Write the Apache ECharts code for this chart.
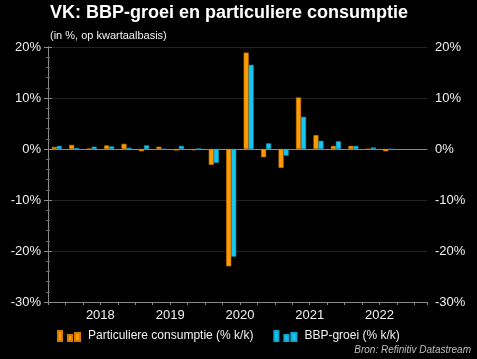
<!DOCTYPE html>
<html>
<head>
<meta charset="utf-8">
<script src="https://cdn.jsdelivr.net/npm/echarts@6/dist/echarts.min.js"></script>
<style>
html,body{margin:0;padding:0;background:#000;}
#chart{width:477px;height:359px;}
</style>
</head>
<body>
<div id="chart"></div>
<script>
var quarters = ['2017Q4','2018Q1','2018Q2','2018Q3','2018Q4','2019Q1','2019Q2','2019Q3','2019Q4',
  '2020Q1','2020Q2','2020Q3','2020Q4','2021Q1','2021Q2','2021Q3','2021Q4','2022Q1','2022Q2','2022Q3'];
var consumptie = [0.4, 0.8, 0.05, 0.7, 1.0, -0.45, 0.45, -0.3, -0.25,
  -3.1, -23.0, 18.9, -1.6, -3.7, 10.1, 2.7, 0.6, 0.6, -0.05, -0.45];
var bbpGroei = [0.6, 0.2, 0.45, 0.5, 0.25, 0.7, -0.05, 0.6, 0.05,
  -2.7, -21.1, 16.5, 1.1, -1.3, 6.3, 1.6, 1.5, 0.6, 0.3, -0.1];
var yearLabels = ['2018','2019','2020','2021','2022'];
var yTicks = [-30, -20, -10, 0, 10, 20];

var seriesNames = ['Particuliere consumptie (% k/k)', 'BBP-groei (% k/k)'];

// year label sits at the boundary between Q2 and Q3 (start of Q3)
var yearPos = {};
yearLabels.forEach(function (y) { yearPos[quarters.indexOf(y + 'Q3')] = y; });

function toPoints(arr) { return arr.map(function (v, i) { return [i + 0.5, v]; }); }

var chart = echarts.init(document.getElementById('chart'), null, {renderer: 'canvas'});
var font = 'Liberation Sans, Arial, sans-serif';
var icon = 'path://M0,0h4v10h-4z M10,4h4v6h-4z M17,2h5v8h-5z';
var axisGray = '#8a8a8a';

var yCommon = {
  type: 'value', min: yTicks[0], max: yTicks[yTicks.length - 1], interval: 10,
  axisLine: {show: true, lineStyle: {color: axisGray}},
  axisTick: {show: true, length: 4, lineStyle: {color: axisGray}},
  minorTick: {show: true, splitNumber: 5, length: 2, lineStyle: {color: '#666'}},
  axisLabel: {color: '#f0f0f0', fontSize: 13, fontFamily: font, formatter: '{value}%'}
};

chart.setOption({
  backgroundColor: '#000',
  animation: false,
  title: [
    {text: 'VK: BBP-groei en particuliere consumptie', left: 50, top: 4, padding: 0,
     textStyle: {color: '#fff', fontSize: 18, fontWeight: 'bold', fontFamily: font}},
    {text: '(in %, op kwartaalbasis)', left: 50, top: 30, padding: 0,
     textStyle: {color: '#f0f0f0', fontSize: 11, fontWeight: 'normal', fontFamily: font}}
  ],
  grid: {left: 48, right: 50, top: 47, bottom: 57},
  legend: {
    left: 57, top: 330, padding: 0, itemWidth: 22, itemHeight: 10, itemGap: 20,
    icon: icon,
    textStyle: {color: '#f0f0f0', fontSize: 12, fontFamily: font, padding: [0, 0, 0, 3]},
    data: seriesNames
  },
  xAxis: [
    {
      type: 'value', min: 0, max: 21.72, interval: 1, position: 'bottom',
      axisLine: {onZero: false, lineStyle: {color: axisGray}},
      axisTick: {show: true, length: 3, lineStyle: {color: axisGray}},
      splitLine: {show: false},
      axisLabel: {
        color: '#f0f0f0', fontSize: 13, fontFamily: font, margin: 7,
        showMinLabel: true, showMaxLabel: true,
        formatter: function (v) { return yearPos[v] || ''; }
      }
    },
    {
      type: 'value', min: 0, max: 21.72, position: 'top',
      axisLine: {show: true, onZero: true, lineStyle: {color: '#8a8a8a', width: 1}},
      axisTick: {show: false}, axisLabel: {show: false}, splitLine: {show: false}
    }
  ],
  yAxis: [
    Object.assign({}, yCommon, {
      position: 'left',
      axisLabel: Object.assign({}, yCommon.axisLabel, {margin: 7}),
      splitLine: {show: true, lineStyle: {color: '#222'}}
    }),
    Object.assign({}, yCommon, {
      position: 'right',
      axisLabel: Object.assign({}, yCommon.axisLabel, {margin: 8}),
      splitLine: {show: false}
    })
  ],
  graphic: [
    {type: 'text', right: 6, top: 345,
     style: {text: 'Bron: Refinitiv Datastream', fill: '#bdbdbd', font: 'italic 10px ' + font}}
  ],
  series: [
    {name: seriesNames[0], type: 'bar', xAxisIndex: 0, yAxisIndex: 0,
     data: toPoints(consumptie), barWidth: 5, barGap: '0%',
     itemStyle: {color: '#FF9A00', borderColor: '#D77A00', borderWidth: 0.6}},
    {name: seriesNames[1], type: 'bar', xAxisIndex: 0, yAxisIndex: 0,
     data: toPoints(bbpGroei), barWidth: 5, barGap: '0%',
     itemStyle: {color: '#17C6F0', borderColor: '#0FA8D0', borderWidth: 0.6}}
  ]
});
</script>
</body>
</html>
